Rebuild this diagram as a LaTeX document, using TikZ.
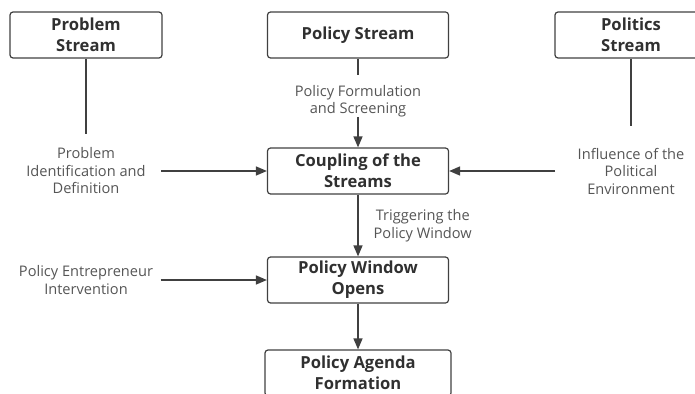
\documentclass[tikz,border=0pt]{standalone}
\usepackage{fontspec}
\setmainfont{Open Sans}
\usetikzlibrary{positioning, arrows.meta}
\definecolor{linegray}{HTML}{404040}
\definecolor{labelgray}{HTML}{555555}
\definecolor{boxtext}{HTML}{303030}
\tikzset {
    ->,
    >={Triangle[length=11pt, width=9pt]},
    stream/.style={draw=linegray, line width=1.2pt, rounded corners=3pt,
        minimum height=46pt, align=center, text=boxtext,
        font=\bfseries\fontsize{16.6}{21}\selectfont},
    lbl/.style={align=center, text=labelgray, inner sep=3pt,
        font=\fontsize{14.6}{17.5}\selectfont}
}

\begin{document}
\begin{tikzpicture}[color=linegray, line width=1.4pt]
    \useasboundingbox (0,0) rectangle (695pt,-393pt);
    \clip (0,0) rectangle (695pt,-393pt);

    % the three streams
    \node[stream, minimum width=152pt] (ps) at (86pt,-35pt) {Problem\\Stream};
    \node[stream, minimum width=181pt, node distance=272pt, right of=ps] (pols) {Policy Stream};
    \node[stream, minimum width=152pt, node distance=273pt, right of=pols] (pots) {Politics\\Stream};

    % main column
    \node[stream, minimum width=181pt, node distance=136pt, below of=pols] (coup) {Coupling of the\\Streams};
    \node[stream, minimum width=181pt, node distance=109pt, below of=coup] (win) {Policy Window\\Opens};
    \node[stream, minimum width=186pt, node distance=93pt, below of=win] (agenda) {Policy Agenda\\Formation};

    % labels
    \node[lbl, node distance=272pt, left of=coup] (problab) {Problem\\Identification and\\Definition};
    \node[lbl, node distance=273pt, right of=coup] (polilab) {Influence of the\\Political\\Environment};
    \node[lbl, node distance=66pt, below of=pols] (formlab) {Policy Formulation\\and Screening};
    \node[lbl, node distance=272pt, left of=win] (entlab) {Policy Entrepreneur\\Intervention};

    \draw
    (ps) edge[-, shorten >=10pt] (problab)
    (problab) edge[shorten <=12pt] (coup)
    (pots) edge[-, shorten >=18pt] (polilab)
    (polilab) edge[shorten <=19pt] (coup)
    (pols) edge[-, shorten >=6pt] (formlab)
    (formlab) edge[shorten <=-4pt] (coup)
    (coup) edge node[lbl, right=12pt] (triglab) {Triggering the\\Policy Window} (win)
    (entlab) edge[shorten <=4pt] (win)
    (win) edge (agenda);

\end{tikzpicture}
\end{document}
